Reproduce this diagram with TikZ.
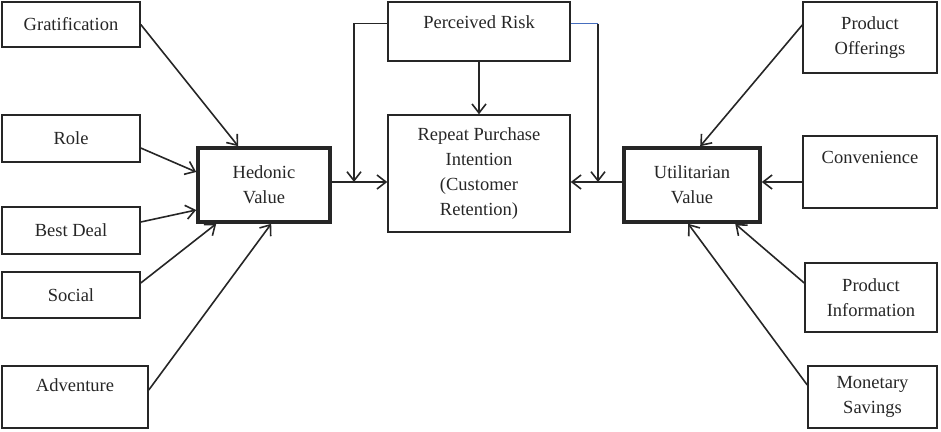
\documentclass[tikz,border=0pt]{standalone}
\usepackage{fontspec}
\setmainfont{Liberation Serif}
\usetikzlibrary{arrows.meta,calc}
\begin{document}
\begin{tikzpicture}[x=1pt,y=-1pt,
  box/.style={draw=black!85, line width=1.5pt, align=center, font=\fontsize{18.5}{25}\selectfont, text=black!85, inner sep=0pt},
  boldbox/.style={box, line width=3.6pt},
  conn/.style={line width=1.6pt, draw=black!85, -{Straight Barb[length=9pt,width=14pt]}},
]
\useasboundingbox (0,0) rectangle (941,431);
% left column
\node[box, minimum width=138pt, minimum height=45pt] (grat) at (71,24.5) {Gratification};
\node[box, minimum width=138pt, minimum height=47pt] (role) at (71,138.5) {Role};
\node[box, minimum width=138pt, minimum height=47pt] (best) at (71,230.5) {Best Deal};
\node[box, minimum width=138pt, minimum height=46pt] (social) at (71,295) {Social};
\node[box, minimum width=146pt, minimum height=62pt, text height=25pt, text depth=37pt] (adv) at (75,397) {Adventure};
% hedonic
\node[boldbox, minimum width=132pt, minimum height=74pt] (hed) at (264,185) {Hedonic\\Value};
% centre
\node[box, minimum width=182pt, minimum height=59pt, text height=26pt, text depth=33pt] (risk) at (479,31.5) {Perceived Risk};
\node[box, minimum width=182pt, minimum height=117pt] (rep) at (479,173.5) {Repeat Purchase\\Intention\\(Customer\\Retention)};
% utilitarian
\node[boldbox, minimum width=136pt, minimum height=74pt] (util) at (692,185) {Utilitarian\\Value};
% right column
\node[box, minimum width=134pt, minimum height=71pt] (off) at (870,37.5) {Product\\Offerings};
\node[box, minimum width=134pt, minimum height=72pt, text height=27pt, text depth=45pt] (conv) at (870,172) {Convenience};
\node[box, minimum width=132pt, minimum height=69pt] (info) at (871,297.5) {Product\\Information};
\node[box, minimum width=129pt, minimum height=62pt] (mon) at (872.5,397) {Monetary\\Savings};

% hedonic antecedents
\draw[conn] (grat.east) -- ([xshift=42pt]hed.north west);
\draw[conn] ([yshift=-9.5pt]role.east) -- ([yshift=13pt]hed.west);
\draw[conn] ([yshift=8.5pt]best.east) -- ([yshift=-25pt]hed.west);
\draw[conn] ([yshift=12pt]social.east) -- ([xshift=20pt]hed.south west);
\draw[conn] ([yshift=7pt]adv.east) -- ([xshift=75pt]hed.south west);

% utilitarian antecedents
\draw[conn] ([yshift=12.5pt]off.west) -- ([xshift=78pt]util.north west);
\draw[conn] ([yshift=-10pt]conv.west) -- ([yshift=3pt]util.east);
\draw[conn] ([yshift=14.5pt]info.west) -- ([xshift=113pt]util.south west);
\draw[conn] ([yshift=12pt]mon.west) -- ([xshift=66pt]util.south west);

% to repeat purchase
\coordinate (he) at ([yshift=3pt]hed.east);
\coordinate (ue) at ([yshift=3pt]util.west);
\draw[conn] (he) -- (he -| rep.west);
\draw[conn] (ue) -- (ue -| rep.east);
\draw[conn] (risk.south) -- (rep.north);

% perceived risk moderating paths
\coordinate (rl) at ([yshift=8pt]risk.west);
\coordinate (rr) at ([yshift=8pt]risk.east);
\coordinate (jl) at (354,182);
\coordinate (jr) at (598,182);
\draw[conn] (rl) -| (jl);
\draw[line width=0.9pt, draw={rgb,255:red,70;green,110;blue,190}] (rr) -- (rr -| jr);
\draw[conn] (rr -| jr) -- (jr);
\end{tikzpicture}
\end{document}
